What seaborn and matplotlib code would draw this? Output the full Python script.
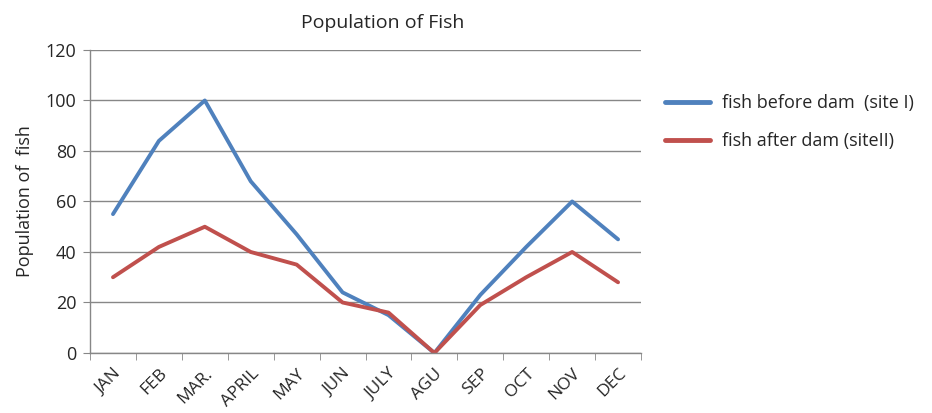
import matplotlib
matplotlib.use("Agg")
import matplotlib.pyplot as plt
import seaborn as sns
import pandas as pd
import numpy as np
from matplotlib.ticker import FixedLocator

months = ["JAN", "FEB", "MAR.", "APRIL", "MAY", "JUN", "JULY", "AGU", "SEP", "OCT", "NOV", "DEC"]
before = [55, 84, 100, 68, 47, 24, 15, 0, 23, 42, 60, 45]
after = [30, 42, 50, 40, 35, 20, 16, 0, 19, 30, 40, 28]
series_names = ["fish before dam  (site I)", "fish after dam (siteII)"]
colors = ["#4F81BD", "#C0504D"]

df = pd.DataFrame({
    "x": list(range(len(months))) * 2,
    "value": before + after,
    "series": [series_names[0]] * len(months) + [series_names[1]] * len(months),
})

sns.set_style("white")
plt.rcParams['font.family'] = ['Open Sans', 'DejaVu Sans']

fig = plt.figure(figsize=(9.32, 4.13), dpi=100)
ax = fig.add_axes([0.0966, 0.1453, 0.5912, 0.7337])

sns.lineplot(data=df, x="x", y="value", hue="series", palette=colors,
             linewidth=2.8, ax=ax, legend=True)

ax.set_xlim(-0.5, len(months) - 0.5)
ax.set_ylim(0, 120)
ax.set_yticks(range(0, 121, 20))
ax.tick_params(axis='y', labelsize=13, length=5, color='#878787', direction='out', left=True, pad=5)
ax.yaxis.grid(True, color='#878787', linewidth=1)
ax.set_axisbelow(True)

ax.set_xticks(range(len(months)))
ax.set_xticklabels(months, rotation=45, ha='right', rotation_mode='anchor', fontsize=12.5)
ax.tick_params(axis='x', length=0, pad=9)
ax.xaxis.set_minor_locator(FixedLocator(np.arange(-0.5, len(months), 1.0)))
ax.tick_params(axis='x', which='minor', length=5, color='#878787', direction='out', bottom=True)

for s in ['top', 'right']:
    ax.spines[s].set_visible(False)
for s in ['left', 'bottom']:
    ax.spines[s].set_color('#878787')
    ax.spines[s].set_linewidth(1)

ax.set_xlabel("")
ax.set_ylabel("Population of  fish", fontsize=13, labelpad=8)
ax.set_title("Population of Fish", fontsize=14, x=0.532, pad=16)

leg = ax.legend(loc='center left', bbox_to_anchor=(1.0435, 0.762), frameon=False,
                fontsize=13, handlelength=2.5, labelspacing=1.1, handletextpad=0.66,
                borderpad=0, borderaxespad=0)
for line in leg.get_lines():
    line.set_linewidth(3.5)

fig.savefig("out.png", dpi=100)
